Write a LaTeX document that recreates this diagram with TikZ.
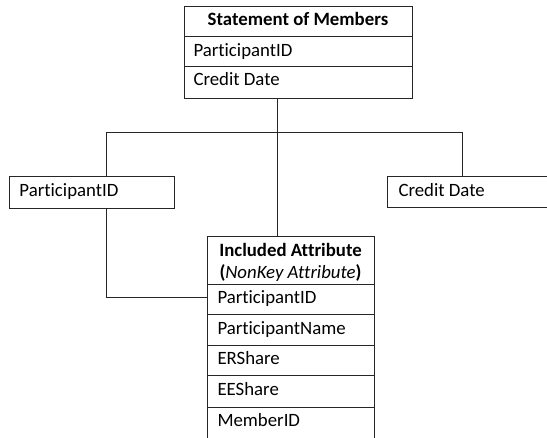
\documentclass[tikz,border=0pt]{standalone}
\usepackage{fontspec}
\setmainfont{Carlito}[Ligatures={NoCommon}]
\begin{document}
\begin{tikzpicture}[x=1pt,y=-1pt,
  line width=1pt,
  box/.style={draw=black!85, line width=1pt, inner sep=0pt, anchor=north west},
  lbl/.style={inner sep=0pt, anchor=base west, font=\fontsize{18.8}{22}\selectfont},
  ttl/.style={inner sep=0pt, anchor=base, font=\fontsize{18.8}{22}\selectfont\bfseries},
  conn/.style={draw=black!85, line width=1pt}]
\useasboundingbox (0,0) rectangle (547,438);
\clip (0,0) rectangle (547,438);
% top table
\node[box, minimum width=228pt, minimum height=92pt] (top) at (184,6) {};
\draw[conn] (184,37) -- (412,37);
\draw[conn] (184,67) -- (412,67);
\node[ttl] (toptitle) at (298,26) {Statement of Members};
\node[lbl] (toppid) at (193,57) {ParticipantID};
\node[lbl] (topcd) at (193,86) {Credit Date};
% side boxes
\node[box, minimum width=165pt, minimum height=32pt] (left) at (9,176) {};
\node[lbl] (leftlbl) at (19,197) {ParticipantID};
\node[box, minimum width=175pt, minimum height=31pt] (right) at (387,176) {};
\node[lbl] (rightlbl) at (398,197) {Credit Date};
% bottom table
\node[box, minimum width=167pt, minimum height=220pt] (bot) at (207,236) {};
\foreach \yy in {285,315,346,376,408} {\draw[conn] (207,\yy) -- (374,\yy);}
\node[ttl] (bottitle) at (290.5,257) {Included Attribute};
\node[ttl] (botsub) at (290.5,279) {(\textmd{\itshape NonKey Attribute})};
\node[lbl] (bpid) at (217,304) {ParticipantID};
\node[lbl] (bpname) at (217,335) {ParticipantName};
\node[lbl] (berr) at (217,365) {ERShare};
\node[lbl] (bee) at (217,396) {EEShare};
\node[lbl] (bmid) at (217,427) {MemberID};
% connectors
\coordinate (mid) at (277,133);
\coordinate (jl) at (106,133);
\coordinate (jr) at (462,133);
\coordinate (jb) at (106,298);
\draw[conn] (mid |- top.south) -- (mid |- bot.north);
\draw[conn] (jl |- left.north) -- (jl) -- (jr) -- (jr |- right.north);
\draw[conn] (jl |- left.south) -- (jb) -- (jb -| bot.west);
\end{tikzpicture}
\end{document}
